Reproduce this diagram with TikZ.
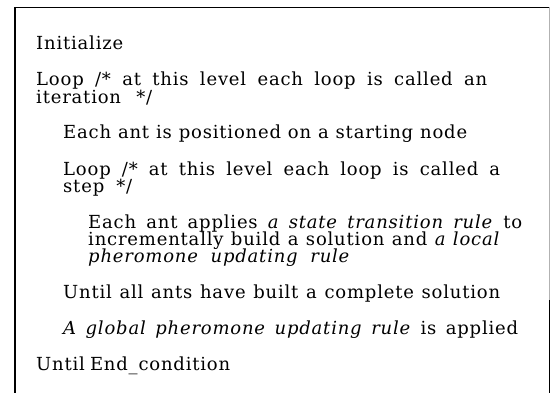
\documentclass[tikz,border=0pt]{standalone}
\usepackage{fontspec}
\setmainfont{DejaVu Serif}[LetterSpace=4.5]
% one line of pseudo-code, spread to a given width
\newcommand{\codetext}[2]{\makebox[#1pt][s]{#2}}
\begin{document}
\begin{tikzpicture}[x=1pt,y=-1pt,
  codeline/.style={anchor=base west,inner sep=0pt,font=\fontsize{18}{17}\selectfont},
  frame/.style={line width=1.4pt,black}]
\useasboundingbox (0,0) rectangle (551,393);
% open frame around the pseudo-code
\coordinate (tl) at (15,7.5);
\coordinate (tr) at (549.5,7.5);
\coordinate (bl) at (15,393);
\coordinate (br) at (549.5,393);
\coordinate (rm) at (549.5,300);
\draw[frame] (bl) -- (tl) -- (tr);
\draw[line width=1pt,black!30] (tr) -- (rm);
\draw[line width=1.2pt,black] (rm) -- (br);
% outer loop
\node[codeline] (init) at (36,50) {Initialize};
\node[codeline] (loopa) at (36,86) {\codetext{451}{Loop /* at this level each loop is called an}};
\node[codeline] (loopb) at (36,103) {\codetext{116}{iteration */}};
% inner loop
\node[codeline] (pos) at (63,139) {\codetext{404}{Each ant is positioned on a starting node}};
\node[codeline] (stepa) at (63,175) {\codetext{437}{Loop /* at this level each loop is called a}};
\node[codeline] (stepb) at (63,192) {\codetext{69}{step */}};
% body of the inner loop
\node[codeline] (bodya) at (88,228) {\codetext{434}{Each ant applies \textit{a state transition rule} to}};
\node[codeline] (bodyb) at (88,245) {\codetext{412}{incrementally build a solution and \textit{a local}}};
\node[codeline] (bodyc) at (88,262) {\codetext{262}{\textit{pheromone updating rule}}};
\node[codeline] (untila) at (63,298) {\codetext{437}{Until all ants have built a complete solution}};
\node[codeline] (glob) at (63,334) {\codetext{455}{\textit{A global pheromone updating rule} is applied}};
\node[codeline] (untilb) at (36,370) {\codetext{194}{Until End\_condition}};
\end{tikzpicture}
\end{document}
